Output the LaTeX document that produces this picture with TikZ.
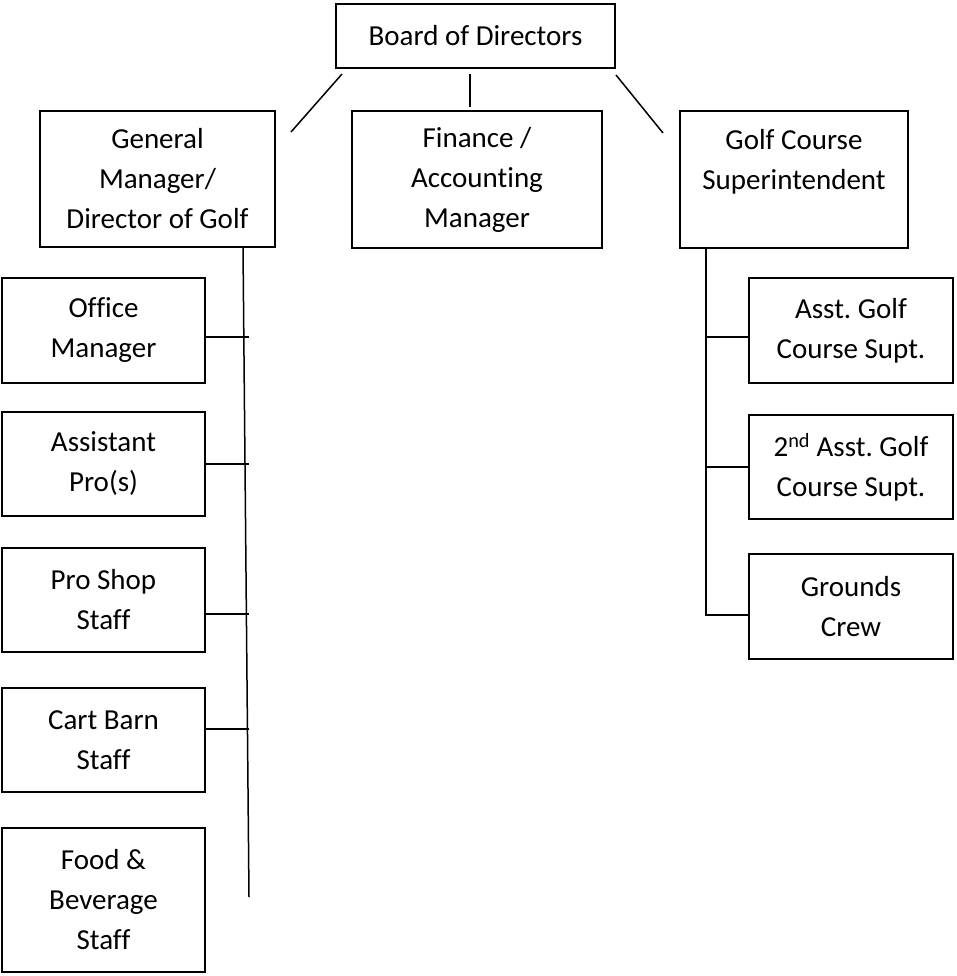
\documentclass[tikz,border=0pt]{standalone}
\usepackage{fontspec}
\setmainfont{Carlito}[Ligatures=NoCommon]
\usepackage{tikz}
\usetikzlibrary{positioning}
\frenchspacing

\begin{document}
\begin{tikzpicture}[x=1pt, y=-1pt,
			box/.style={draw=black, line width=2pt, align=center, inner sep=0pt,
				font=\fontsize{29}{40}\selectfont},
			link/.style={draw=black, line width=1.5pt}]
			\useasboundingbox (0,0) rectangle (956,976);
			% top row
			\node[box, minimum width=279pt, minimum height=64pt] (bod) at (475.5,36) {Board of Directors};
			\node[box, minimum width=235pt, minimum height=136pt] (gm) at (157.5,179) {General\\Manager/\\Director of Golf};
			\node[box, minimum width=250pt, minimum height=137pt] (fin) at (477,179.5) {Finance /\\Accounting\\Manager};
			\node[box, minimum width=228pt, minimum height=137pt] (gcs) at (794,179.5) {Golf Course\\Superintendent\\\phantom{G}};
			% left column
			\node[box, minimum width=203pt, minimum height=105pt] (om) at (103.5,330.5) {Office\\Manager};
			\node[box, minimum width=203pt, minimum height=104pt] (ap) at (103.5,464) {Assistant\\Pro(s)};
			\node[box, minimum width=203pt, minimum height=104pt] (ps) at (103.5,600) {Pro Shop\\Staff};
			\node[box, minimum width=203pt, minimum height=104pt] (cb) at (103.5,740) {Cart Barn\\Staff};
			\node[box, minimum width=203pt, minimum height=144pt] (fb) at (103.5,900) {Food \&\\Beverage\\Staff};
			% right column
			\node[box, minimum width=204pt, minimum height=105pt] (agc) at (851,330.5) {Asst. Golf\\Course Supt.};
			\node[box, minimum width=204pt, minimum height=104pt] (sagc) at (851,467) {2\textsuperscript{nd} Asst. Golf\\Course Supt.};
			\node[box, minimum width=204pt, minimum height=105pt] (gc) at (851,606.5) {Grounds\\Crew};
			% links from the board
			\draw[link] ([shift={(7,5)}]bod.south west) -- ([shift={(15,22)}]gm.north east);
			\draw[link] ([shift={(-5.5,5)}]bod.south) -- ([shift={(-7,-3)}]fin.north);
			\draw[link] ([shift={(0,6)}]bod.south east) -- ([shift={(-16,23)}]gcs.north west);
			% left trunk
			\coordinate (gmend) at (249,897);
			\draw[link] ([xshift=85.5pt]gm.south) -- (gmend);
			\draw[link] ([yshift=-6.5pt]om.east) -- ++(43,0);
			\draw[link] (ap.east) -- ++(43,0);
			\draw[link] ([yshift=-14pt]ps.east) -- ++(43,0);
			\draw[link] ([yshift=11pt]cb.east) -- ++(43,0);
			% right trunk
			\draw[link] ([xshift=-88pt]gcs.south) |- ([yshift=-8.5pt]gc.west);
			\draw[link] ([yshift=-6.5pt]agc.west) -- ++(-43,0);
			\draw[link] ([yshift=0pt]sagc.west) -- ++(-43,0);
\end{tikzpicture}
\end{document}
